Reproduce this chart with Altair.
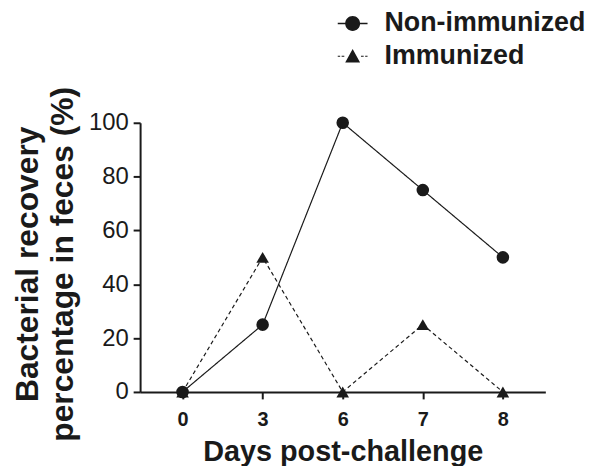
import altair as alt
import pandas as pd

days = ["0", "3", "6", "7", "8"]
groups = ["Non-immunized", "Immunized"]
non_immunized = [0, 25, 100, 75, 50]
immunized = [0, 50, 0, 25, 0]

rows = []
for d, v in zip(days, immunized):
    rows.append({"day": d, "value": v, "group": "Immunized"})
for d, v in zip(days, non_immunized):
    rows.append({"day": d, "value": v, "group": "Non-immunized"})
df = pd.DataFrame(rows)

INK = "#1a1a1a"
FONT = "Liberation Sans"

# legend glyphs: line + marker drawn as filled shapes (custom symbol paths in [-1,1] box)
circle_path = ("M-1,-0.045H-0.45V0.045H-1Z"
               "M0.45,-0.045H1V0.045H0.45Z"
               "M-0.5,0A0.5,0.5,0,1,1,0.5,0A0.5,0.5,0,1,1,-0.5,0Z")
tri_path = ("M-1,-0.04H-0.84V0.04H-1Z"
            "M-0.74,-0.04H-0.56V0.04H-0.74Z"
            "M0.56,-0.04H0.74V0.04H0.56Z"
            "M0.84,-0.04H1V0.04H0.84Z"
            "M-0.5,0.42L0,-0.48L0.5,0.42Z")

x_enc = alt.X("day:N", sort=days,
              scale=alt.Scale(type="point", padding=0.53),
              axis=alt.Axis(title="Days post-challenge", labelAngle=0,
                            labelFontSize=20, labelFontWeight="bold",
                            labelPadding=11, titleFontSize=29,
                            titleFontWeight="bold", titlePadding=8, grid=False))
y_enc = alt.Y("value:Q", scale=alt.Scale(domain=[0, 100], nice=False),
              axis=alt.Axis(title=["Bacterial recovery", "percentage in feces (%)"],
                            values=[0, 20, 40, 60, 80, 100],
                            labelFontSize=24, labelFontWeight="normal",
                            labelPadding=5, titleFontSize=32,
                            titleFontWeight="bold", titleLineHeight=35,
                            titlePadding=9, titleY=142, grid=False))

base = alt.Chart(df)

lines = base.mark_line(color=INK, strokeWidth=1.2).encode(
    x=x_enc, y=y_enc,
    strokeDash=alt.StrokeDash("group:N",
                              scale=alt.Scale(domain=groups, range=[[1, 0], [4, 3]]),
                              legend=None),
    detail="group:N",
)

points = base.mark_point(filled=True, color=INK, opacity=1, size=160).encode(
    x=x_enc, y=y_enc,
    shape=alt.Shape("group:N",
                    scale=alt.Scale(domain=groups, range=["circle", "triangle-up"]),
                    legend=None),
)

legend_layer = base.mark_point(filled=True, color=INK, opacity=1).encode(
    x=x_enc, y=y_enc,
    shape=alt.Shape("group:N",
                    scale=alt.Scale(domain=groups, range=[circle_path, tri_path]),
                    legend=alt.Legend(title=None, orient="none", legendX=199, legendY=-115,
                                      symbolSize=900, symbolStrokeWidth=0,
                                      symbolFillColor=INK,
                                      symbolOpacity=1, labelFontSize=27,
                                      labelFontWeight="bold", labelFont=FONT,
                                      labelColor=INK, labelOffset=17, rowPadding=5,
                                      labelLimit=400, direction="vertical")),
).transform_filter("false")

chart = alt.layer(lines, points, legend_layer).resolve_scale(
    shape="independent"
).properties(
    width=408, height=271,
    autosize=alt.AutoSizeParams(type="none"),
    padding={"left": 133, "top": 114, "right": 49, "bottom": 73},
    background="white",
).configure_view(stroke=None).configure_axis(
    domainColor=INK, domainWidth=2, tickColor=INK, tickWidth=2, tickSize=7,
    labelColor=INK, titleColor=INK, labelFont=FONT, titleFont=FONT,
)

chart.save("out.html", embed_options={"renderer": "svg", "actions": False})
